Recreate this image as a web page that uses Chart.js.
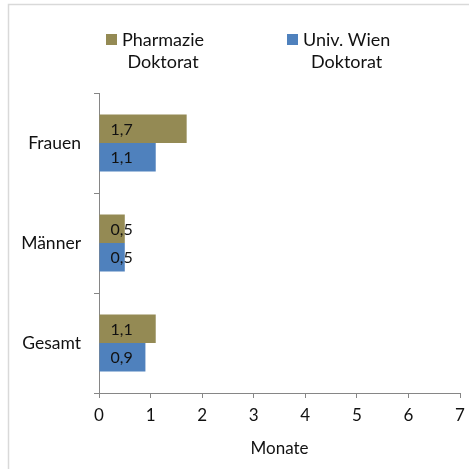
<!DOCTYPE html>
<html>
<head>
<meta charset="utf-8">
<script src="https://cdn.jsdelivr.net/npm/chart.js@4"></script>
<style>
  body { margin: 0; background: #fff; }
</style>
</head>
<body>
<canvas id="chart" width="469" height="469"></canvas>
<script>
// data
var categories = ["Frauen", "Männer", "Gesamt"];
var seriesNames = [["Pharmazie", "Doktorat"], ["Univ. Wien", "Doktorat"]];
var pharmazie = [1.7, 0.5, 1.1];
var univWien = [1.1, 0.5, 0.9];
var xTicks = [0, 1, 2, 3, 4, 5, 6, 7];
var axisTitle = "Monate";

var colors = ["#948A54", "#4F81BD"];
var fontName = "Lato, 'Noto Sans', sans-serif";

// frame lines left/top like the cropped office chart
var framePlugin = {
    id: "frame",
    beforeDraw: function (chart) {
        var ctx = chart.ctx;
        ctx.save();
        ctx.fillStyle = "#fff";
        ctx.fillRect(0, 0, chart.width, chart.height);
        ctx.strokeStyle = "#D9D9D9";
        ctx.lineWidth = 1.5;
        ctx.beginPath();
        ctx.moveTo(8.5, chart.height);
        ctx.lineTo(8.5, 4.5);
        ctx.lineTo(chart.width, 4.5);
        ctx.stroke();
        ctx.restore();
    }
};

// legend with two line labels
var legendPlugin = {
    id: "twoLineLegend",
    afterDraw: function (chart) {
        var ctx = chart.ctx;
        var boxX = [106, 287];
        ctx.save();
        ctx.font = "18px " + fontName;
        ctx.textBaseline = "middle";
        chart.data.datasets.forEach(function (ds, i) {
            ctx.fillStyle = ds.backgroundColor;
            ctx.fillRect(boxX[i], 34, 11, 11);
            ctx.fillStyle = "#111";
            var lines = seriesNames[i];
            var tx = boxX[i] + 16;
            var w0 = ctx.measureText(lines[0]).width;
            ctx.textAlign = "left";
            ctx.fillText(lines[0], tx, 40);
            ctx.textAlign = "center";
            ctx.fillText(lines[1], tx + w0 / 2, 62);
        });
        ctx.restore();
    }
};

// value labels inside the bars
var valuePlugin = {
    id: "values",
    afterDatasetsDraw: function (chart) {
        var ctx = chart.ctx;
        ctx.save();
        ctx.font = "16px " + fontName;
        ctx.fillStyle = "#111";
        ctx.textAlign = "left";
        ctx.textBaseline = "middle";
        chart.data.datasets.forEach(function (ds, i) {
            chart.getDatasetMeta(i).data.forEach(function (bar, j) {
                var txt = ds.data[j].toFixed(1).replace(".", ",");
                ctx.fillText(txt, bar.base + 11, bar.y + 1);
            });
        });
        ctx.restore();
    }
};

var chart = new Chart("chart", {
    type: "bar",
    data: {
        labels: categories,
        datasets: [{
            label: seriesNames[0].join(" "),
            data: pharmazie,
            backgroundColor: colors[0],
            borderWidth: 0
        }, {
            label: seriesNames[1].join(" "),
            data: univWien,
            backgroundColor: colors[1],
            borderWidth: 0
        }]
    },
    options: {
        indexAxis: "y",
        responsive: false,
        animation: false,
        categoryPercentage: 0.57,
        barPercentage: 1.0,
        layout: { padding: { top: 93, right: 9, left: 0, bottom: 0 } },
        plugins: {
            legend: { display: false },
            tooltip: { enabled: false }
        },
        scales: {
            x: {
                min: 0,
                max: 7,
                afterBuildTicks: function (scale) {
                    scale.ticks = xTicks.map(function (v) { return { value: v }; });
                },
                afterFit: function (scale) {
                    scale.height = 76;
                    scale.paddingRight = 0;
                },
                grid: { drawOnChartArea: false, drawTicks: true, tickLength: 5, tickColor: "#868686" },
                border: { color: "#868686" },
                ticks: { color: "#111", padding: 7, font: { family: fontName, size: 17 } },
                title: {
                    display: true,
                    text: axisTitle,
                    color: "#111",
                    font: { family: fontName, size: 17 },
                    padding: { top: 4, bottom: 10 }
                }
            },
            y: {
                afterFit: function (scale) { scale.width = 99; },
                grid: { offset: true, drawOnChartArea: false, drawTicks: true, tickLength: 5, tickColor: "#868686" },
                border: { color: "#868686" },
                ticks: { color: "#111", padding: 13, font: { family: fontName, size: 17.5 } }
            }
        }
    },
    plugins: [framePlugin, legendPlugin, valuePlugin]
});
</script>
</body>
</html>
